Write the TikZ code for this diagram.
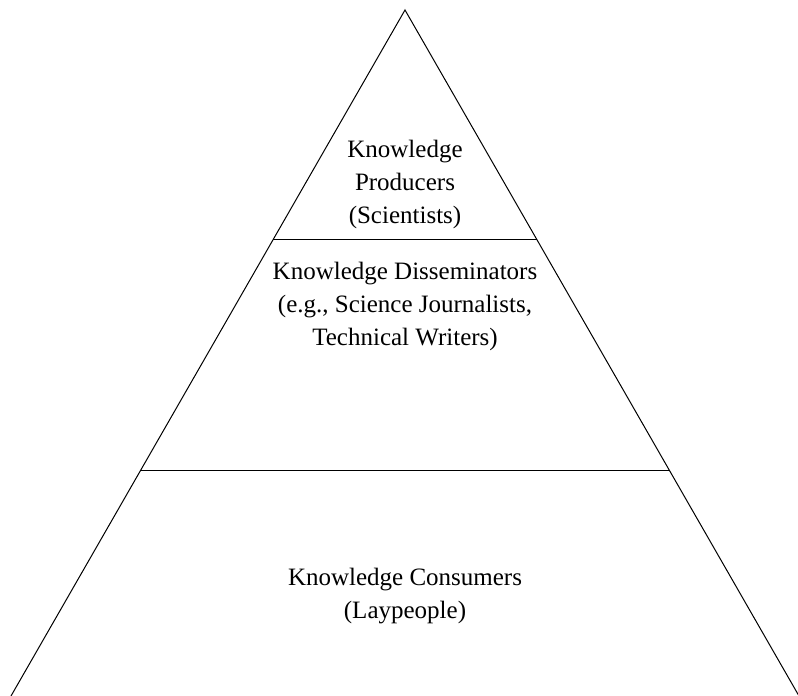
\documentclass[tikz,border=0pt]{standalone}
\usepackage{fontspec}
\setmainfont{Liberation Serif}
\usetikzlibrary{calc}
\tikzset{
  tier/.style={align=center, font=\fontsize{25}{33}\selectfont},
  edge/.style={line width=1pt, black}
}
\begin{document}
\begin{tikzpicture}[x=1pt,y=1pt]
\useasboundingbox (0,0) rectangle (798,696);
% apex and feet of the pyramid
\coordinate (apex) at (405,686);
\coordinate (footL) at (11,0);
\coordinate (footR) at (799,0);
% tier boundaries at a third and two thirds of the height
\coordinate (upL) at ($(apex)!0.334!(footL)$);
\coordinate (upR) at ($(apex)!0.334!(footR)$);
\coordinate (loL) at ($(apex)!0.672!(footL)$);
\coordinate (loR) at ($(apex)!0.672!(footR)$);

\draw[edge] (footL) -- (apex) -- (footR);
\draw[edge] (upL) -- (upR);
\draw[edge] (loL) -- (loR);

\node[tier] (producers) at (405,512) {Knowledge\\Producers\\(Scientists)};
\node[tier] (disseminators) at (405,390) {Knowledge Disseminators\\(e.g., Science Journalists,\\Technical Writers)};
\node[tier] (consumers) at (405,100) {Knowledge Consumers\\(Laypeople)};
\end{tikzpicture}
\end{document}
